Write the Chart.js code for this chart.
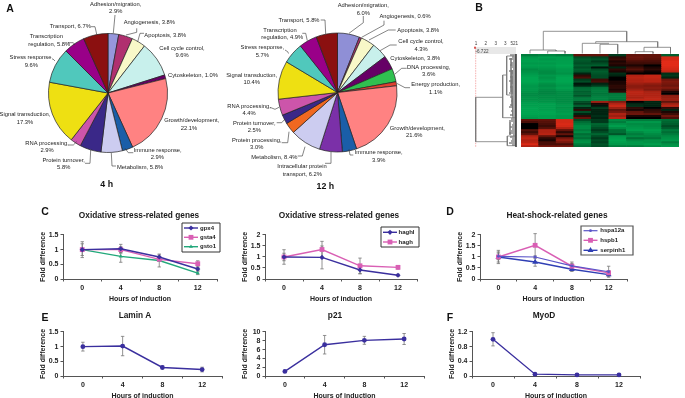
<!DOCTYPE html>
<html><head><meta charset="utf-8">
<style>
html,body{margin:0;padding:0;background:#fff;width:685px;height:398px;overflow:hidden}
#fig{position:relative;width:685px;height:398px;filter:blur(0.35px)}
canvas{position:absolute}
.letter{position:absolute;font:bold 10.5px "Liberation Sans",Arial,sans-serif;color:#111;transform:translate(-50%,-50%)}
</style>
<script src="https://cdn.jsdelivr.net/npm/chart.js@4/dist/chart.umd.js"></script>
</head><body><div id="fig"></div>
<script>
// ---------- DATA ----------
const hours=['0','4','8','12'];
const pie4Cats=['Adhesion/migration','Angiogenesis','Apoptosis','Cell cycle control','Cytoskeleton','Growth/development','Immune response','Metabolism','Protein turnover','RNA processing','Signal transduction','Stress response','Transcription regulation','Transport'];
const pie4Vals=[2.9,3.8,3.8,9.6,1.0,22.1,2.9,5.8,5.8,2.9,17.3,9.6,5.8,6.7];
const pie4Cols=['#9797dc','#b0306f','#f8f8c8','#c8f0ec','#660066','#ff8282','#1a5ea8','#ccccf0','#3a2888','#cc55aa','#eee012','#50c8bc','#990088','#8b1010'];
const pie12Cats=['Adhesion/migration','Angiogenesis','Apoptosis','Cell cycle control','Cytoskeleton','DNA processing','Energy production','Growth/development','Immune response','Intracellular protein transport','Metabolism','Protein processing','Protein turnover','RNA processing','Signal transduction','Stress response','Transcription regulation','Transport'];
const pie12Vals=[6.0,0.6,3.8,4.3,3.8,3.6,1.1,21.6,3.9,6.2,8.4,3.0,2.5,4.4,10.4,5.7,4.9,5.8];
const pie12Cols=['#8f8fd6','#b0306f','#f8f8c8','#c8f0ec','#660066','#30c050','#e04030','#ff8282','#1a5ea8','#7b30a8','#ccccf0','#f06820','#3a2888','#cc55aa','#eee012','#50c8bc','#990088','#8b1010'];

const gpx4=[1.0,1.03,0.75,0.34], gpx4Err=[.05,.15,.07,.05];
const gsta4=[1.0,1.0,0.67,0.52], gsta4Err=[.27,.1,.05,.1];
const gsto1=[1.0,0.77,0.63,0.2], gsto1Err=[.2,.2,.22,.05];
const haghl=[1.0,0.98,0.41,0.17], haghlErr=[.33,.52,.18,.05];
const hagh=[1.0,1.34,0.6,0.53], haghErr=[.17,.37,.35,.08];
const hspa12a=[1.03,1.0,0.6,0.33], hspa12aErr=[.15,.05,.1,.25];
const hspb1=[1.0,1.53,0.58,0.28], hspb1Err=[.3,.53,.19,.1];
const serpinh1=[1.0,0.77,0.44,0.2], serpinh1Err=[.23,.19,.1,.08];
const laminA=[1.0,1.02,0.29,0.22], laminAErr=[.15,.33,.05,.08];
const p21=[1.05,7.1,8.1,8.4], p21Err=[.1,2.1,.9,1.25];
const myoD=[1.0,0.05,0.03,0.03], myoDErr=[.18,.02,.01,.01];
const ticks15=[0,0.5,1,1.5], ticks2=[0,0.5,1,1.5,2], ticks10=[0,2,4,6,8,10], ticks12=[0,0.4,0.8,1.2];

const heatCols=['C2','C3','C1','4h3','4hr2','4h1','12h3','12h2','12h1'];
const heatRows=[
[-.6,-.65,-.6,.3,.3,-.2,.3,.3,-.4],
[-.8,-.85,-.85,-.3,-.25,.1,.35,.3,.9],
[-.85,-.8,-.85,-.4,-.35,.15,.3,.25,.9],
[-.85,-.85,-.85,-.35,-.2,.05,.2,.2,1],
[-.8,-.8,-.85,-.3,-.3,.1,.15,.15,1],
[-.85,-.85,-.9,-.4,-.4,.05,.05,0,1],
[-.8,-.8,-.85,-.3,-.05,-.1,.15,.05,.95],
[-.7,-.75,-.8,-.4,-.3,.1,.25,.1,.9],
[-.75,-.7,-.8,-.35,-.4,.05,.1,.02,.8],
[-.8,-.7,-.75,-.1,-.35,-.15,0,0,-.15],
[-.85,-.8,-.85,.1,-.3,-.1,.7,.8,-.2],
[-.9,-.75,-.9,.2,-.3,0,.75,.8,-.1],
[-.9,-.8,-.9,-.2,.15,0,.7,.75,.35],
[-.9,-.85,-.9,-.3,.2,.05,.7,.75,.45],
[-.85,-.75,-.85,-.05,-.1,.05,.6,.55,.4],
[-.8,-.7,-.8,-.1,-.2,.1,.5,.45,.35],
[-.8,-.75,-.85,-.45,-.55,.1,.5,.5,.45],
[-.8,-.7,-.8,-.5,-.6,.05,.6,.45,.3],
[-.75,-.65,-.7,-.4,-.6,.1,.75,.65,.05],
[-.7,-.65,-.7,-.45,-.55,-.55,.75,.7,0],
[-.7,-.7,-.7,-.35,-.6,-.6,.7,.7,.5],
[-.75,-.7,-.7,-.55,-.65,-.6,.65,.75,.55],
[-.75,-.75,-.7,-.6,-.65,-.55,.8,.8,.6],
[-.8,-.75,-.7,-.3,.6,.45,0,-.1,.3],
[-.85,-.85,-.75,-.2,.05,.7,-.1,-.1,.6],
[-.85,-.85,-.8,-.4,-.05,.85,-.15,-.1,.75],
[-.9,-.85,-.75,-.1,-.2,.6,.1,0,.1],
[-.9,-.85,-.8,.1,-.1,.3,.05,.1,-.1],
[-.9,-.9,-.8,-.3,-.1,.4,.3,.15,.05],
[-.9,-.9,-.85,-.1,-.1,.7,.35,.3,.15],
[-.85,-.85,-.8,.1,-.15,.6,.05,.05,.35],
[-.8,-.85,-.8,.3,-.1,.75,0,0,.2],
[.3,.3,.9,-.3,-.2,-.7,-.6,-.6,-.5],
[.2,.25,.9,-.5,-.2,-.6,-.8,-.8,-.45],
[0,.2,.95,-.6,-.45,-.75,-.7,-.7,-.4],
[0,.15,.9,-.7,-.4,-.85,-.75,-.7,-.3],
[0,.25,.7,-.7,-.3,-.7,-.8,-.75,-.4],
[.25,.7,.3,-.6,-.2,-.5,-.85,-.85,-.6],
[.15,.7,.1,-.7,-.3,-.5,-.7,-.8,-.5],
[.3,.75,.3,-.5,-.45,-.35,-.6,-.7,-.6],
[.7,.3,.05,-.6,-.3,-.8,-.7,-.65,-.7],
[.8,.1,.4,-.5,-.2,-.85,-.5,-.55,-.75],
[.7,.05,.55,-.7,-.3,-.9,-.7,-.75,-.8],
[.75,.2,.4,-.75,-.25,-.85,-.8,-.75,-.6],
[.95,.2,.2,-.6,-.35,-.8,-.8,-.85,-.75],
[.7,.4,.4,-.5,-.3,-.6,-.6,-.7,-.8]];

// dendrogram links, read in picture units
const topTree=[
[[543.3,50],[543.3,31.3],[626.7,31.3],[626.7,41.7]],
[[530,53.5],[530,50],[556,50],[556,51]],
[[547.7,53.5],[547.7,51],[565,51],[565,53.5]],
[[595.7,43.3],[595.7,41.7],[657.7,41.7],[657.7,47.3]],
[[582.3,53.5],[582.3,43.3],[609,43.3]],
[[600,53.5],[600,44.3],[617.7,44.3],[617.7,53.5]],
[[644,51.7],[644,47.3],[670.5,47.3],[670.5,53.5]],
[[635.2,53.5],[635.2,51.7],[653,51.7],[653,53.5]]];
const sideTree=[
[[502.7,97.3],[475.7,97.3],[475.7,141.7],[507.3,141.7]],
[[506.7,75],[502.7,75],[502.7,117.7],[515,117.7]],
[[514,56],[506.7,56],[506.7,95],[511.7,95]],
[[515,136],[507.3,136],[507.3,145.7],[515,145.7]],
[[511,58],[511,92]],[[512.5,98],[512.5,116]],[[510,122],[510,135]],[[512,70],[512,106]]];
const leafStart=[510,512,509,513,511,510,512,513,509,511,513,510,512,509,511,513,510,512,511,509,513,510,512,511,513,510,509,512,511,513,510,512,511,509,513,512,510,512,511,509,513,510,512,511,509,512];

// ---------- LAYOUT ----------
const pie4Text=[['Adhesion/migration,',115.7,4],['2.9%',115.7,11],['Angiogenesis, 3.8%',149.3,22.7],['Apoptosis, 3.8%',165.3,35],['Cell cycle control,',182,48.3],['9.6%',182,55.7],['Cytoskeleton, 1.0%',193,75],['Growth/development,',191.7,120.7],['22.1%',189,128],['Immune response,',157.7,150.7],['2.9%',157.3,157.7],['Metabolism, 5.8%',140,167.3],['Protein turnover,',63.7,160.3],['5.8%',63.7,167.7],['RNA processing,',47,143.3],['2.9%',47,150.7],['Signal transduction,',25,114.7],['17.3%',25,122],['Stress response,',31.3,57.7],['9.6%',31.3,65],['Transcription',46.3,36.7],['regulation, 5.8%',49.3,44],['Transport, 6.7%',70.3,26.7]];
const pie4Lead=[[[115,15],[113.3,33.3]],[[136.7,28.3],[136.7,32.3],[126,35]],[[144,33.3],[140,33.3],[137.7,41.7]],[[133.3,152.7],[128.3,152.7],[125,148.3]],[[116,166],[112,166],[111.3,152.7]],[[85,163.3],[90,163.3],[90.7,150]],[[68.3,145],[73.3,145],[76.7,141.7]],[[53,59],[55,61]],[[67.7,42.7],[73.3,42.7],[75,45]],[[91,26.7],[95,26.7],[96.7,34.3]]];
const pie12Text=[['Adhesion/migration,',363.3,5.7],['6.0%',363.3,13],['Angiogenesis, 0.6%',405,16.3],['Apoptosis, 3.8%',418.3,30.3],['Cell cycle control,',421,41.7],['4.3%',421,49],['Cytoskeleton, 3.8%',415.3,58.7],['DNA processing,',428.7,67],['3.6%',428.7,74],['Energy production,',435.7,84.7],['1.1%',435.7,92],['Growth/development,',417.3,128],['21.6%',414.3,135],['Immune response,',378.7,152.7],['3.9%',378.7,160],['Intracellular protein',302,166.7],['transport, 6.2%',302.3,174],['Metabolism, 8.4%',274.3,157.3],['Protein processing,',256.7,140],['3.0%',256.7,147],['Protein turnover,',254.3,123.3],['2.5%',254.3,130.7],['RNA processing,',249,106.7],['4.4%',249,113.3],['Signal transduction,',251.7,75.3],['10.4%',251.7,82.7],['Stress response,',262.3,47.3],['5.7%',262.3,55],['Transcription',280,30.3],['regulation, 4.9%',282.3,37.7],['Transport, 5.8%',299,20.3]];
const pie12Lead=[[[363.3,16],[363.3,22.7],[349,33.3]],[[384,20.7],[384,25],[361.7,37.3]],[[395.7,30],[388.3,30],[369,40]],[[396.7,45],[390,45],[380,50.7]],[[406.7,68.3],[401.7,68.3],[395,74]],[[410,87.7],[405,87.7],[396.7,83.3]],[[353.3,155],[350,155],[349,149.3]],[[325,163.3],[331,163.3],[331,152]],[[297.7,156],[302.3,156],[305,146.7]],[[281.7,142.7],[287.7,142.7],[289,131.7]],[[276.7,122.7],[281.7,122.7],[285,119]],[[270,107.3],[275,109.3],[279,107.3]],[[285,50],[287.7,51.7],[288.5,53.5]],[[302.3,33.3],[305.7,33.3],[307.3,40.7]],[[320.7,20],[325,20],[325.7,34]]];
const letters=[['A',10,7.5],['B',479,7],['C',45,211],['D',450,211],['E',45,317],['F',450,317]];

const FF='"Liberation Sans",Arial,sans-serif';
const fig=document.getElementById('fig');
function mk(l,t,w,h){const c=document.createElement('canvas');c.width=w;c.height=h;c.style.left=l+'px';c.style.top=t+'px';c.style.width=w+'px';c.style.height=h+'px';fig.appendChild(c);return c;}
letters.forEach(([s,x,y])=>{const d=document.createElement('div');d.className='letter';d.textContent=s;d.style.left=x+'px';d.style.top=y+'px';fig.appendChild(d);});
Chart.defaults.animation=false;Chart.defaults.devicePixelRatio=1;Chart.defaults.font.family=FF;

// ---------- PIES ----------
function pie(left,w,h,padR,padB,cats,vals,cols,texts,leads,caption){
 const c=mk(left,0,w,h);
 new Chart(c,{type:'pie',data:{labels:cats,datasets:[{data:vals,backgroundColor:cols,borderColor:'#222',borderWidth:.7}]},
 options:{responsive:false,radius:59.5,layout:{padding:{right:padR,bottom:padB}},events:[],plugins:{legend:{display:false},tooltip:{enabled:false},title:{display:false}}},
 plugins:[{id:'lbl',afterDraw(ch){const x=ch.ctx;x.save();x.strokeStyle='#333';x.lineWidth=.6;
  leads.forEach(p=>{x.beginPath();p.forEach((q,i)=>i?x.lineTo(q[0]-left,q[1]):x.moveTo(q[0]-left,q[1]));x.stroke();});
  x.fillStyle='#222';x.textAlign='center';x.textBaseline='middle';x.font='5.8px '+FF;
  texts.forEach(t=>x.fillText(t[0],t[1]-left,t[2]));
  x.font='bold 8.8px '+FF;x.fillStyle='#111';x.fillText(caption[0],caption[1]-left,caption[2]);x.restore();}}]});
}
pie(0,232,200,16,14,pie4Cats,pie4Vals,pie4Cols,pie4Text,pie4Lead,['4 h',106.7,184.3]);
pie(225,240,200,15,15,pie12Cats,pie12Vals,pie12Cols,pie12Text,pie12Lead,['12 h',325.3,187]);

// ---------- LINE PANELS ----------
const YW=35,XH=24,TOPH=28;
function panel(s){
 const left=s.axL-YW,top=s.top-TOPH,w=Math.round(2*(s.tc-left)),h=s.bot-s.top+TOPH+XH;
 const c=mk(left,top,w,h);
 const sets=s.series.map(d=>({label:d.name,data:d.v,err:d.e,borderColor:d.col,backgroundColor:d.fill||d.col,borderWidth:d.lw||1.4,pointStyle:d.ps||'circle',pointRadius:d.r||2.4,pointBorderWidth:0,tension:0,clip:false}));
 const font={family:FF,size:7,weight:'bold'};
 new Chart(c,{type:'line',data:{labels:hours,datasets:sets},options:{responsive:false,events:[],
  layout:{padding:{right:left+w-s.axR}},
  plugins:{legend:{display:false},tooltip:{enabled:false},title:{display:true,text:s.title,color:'#1a1a1a',font:{family:FF,size:8.3,weight:'bold'},padding:{top:TOPH-(s.top-s.tcy)-5,bottom:s.top-s.tcy-5}}},
  scales:{x:{type:'category',offset:true,grid:{offset:true,drawOnChartArea:false,tickLength:2.5,color:'#555'},border:{color:'#555'},
    ticks:{font,color:'#222',padding:2,maxRotation:0},title:{display:true,text:'Hours of induction',font,color:'#222',padding:{top:1.8,bottom:0}},afterFit(a){a.height=XH;}},
   y:{min:s.yt[0],max:s.yt[s.yt.length-1],grid:{drawOnChartArea:false,tickLength:2.5,color:'#555'},border:{color:'#555'},
    afterBuildTicks(a){a.ticks=s.yt.map(v=>({value:v}));},
    ticks:{font,color:'#222',padding:2,autoSkip:false,callback:v=>String(v)},title:{display:true,text:'Fold difference',font,color:'#222',padding:{top:10.8,bottom:0}},afterFit(a){a.width=YW;}}}},
 plugins:[{id:'err',afterLayout(ch){ch.titleBlock.left=0;ch.titleBlock.right=w;},
  beforeDatasetsDraw(ch){const x=ch.ctx,xs=ch.scales.x,ys=ch.scales.y;x.save();x.strokeStyle='#777';x.lineWidth=.8;
   ch.data.datasets.forEach(d=>d.err.forEach((e,i)=>{const px=xs.getPixelForValue(i),a=ys.getPixelForValue(d.data[i]+e),b=ys.getPixelForValue(d.data[i]-e);
    x.beginPath();x.moveTo(px,a);x.lineTo(px,b);x.moveTo(px-1.7,a);x.lineTo(px+1.7,a);x.moveTo(px-1.7,b);x.lineTo(px+1.7,b);x.stroke();}));x.restore();},
  afterDraw(ch){if(!s.leg)return;const x=ch.ctx,L=s.leg;x.save();x.strokeStyle=L.bc||'#444';x.lineWidth=L.bw||1;x.fillStyle='#fff';
   x.beginPath();x.rect(L.x0-left,L.y0-top,L.x1-L.x0,L.y1-L.y0);x.fill();x.stroke();
   ch.data.datasets.forEach((d,i)=>{const y=L.ys[i]-top;x.strokeStyle=d.borderColor;x.lineWidth=d.borderWidth;x.beginPath();x.moveTo(L.lx0-left,y);x.lineTo(L.lx1-left,y);x.stroke();
    x.fillStyle=d.backgroundColor;x.strokeStyle=d.backgroundColor;Chart.helpers.drawPoint(x,{pointStyle:d.pointStyle,radius:d.pointRadius,rotation:0,borderWidth:0},(L.lx0+L.lx1)/2-left,y);
    x.fillStyle='#222';x.font='bold 6px '+FF;x.textAlign='left';x.textBaseline='middle';x.fillText(d.label,L.tx-left,y);});x.restore();}}]});
}
const BLUE='#3a2f9e',PINK='#d95fb4',GRN='#22a87a';
panel({axL:63,axR:217,top:235,bot:279,tc:139,tcy:216,title:'Oxidative stress-related genes',yt:ticks15,
 series:[{name:'gpx4',v:gpx4,e:gpx4Err,col:BLUE,ps:'rectRot',r:2.6},{name:'gsta4',v:gsta4,e:gsta4Err,col:PINK,ps:'rect',r:3.4},{name:'gsto1',v:gsto1,e:gsto1Err,col:GRN,ps:'triangle',r:2.3}],
 leg:{x0:182,y0:223,x1:220,y1:252,ys:[228,237.3,246.7],lx0:184,lx1:198,tx:200,bc:'#333'}});
panel({axL:265,axR:417,top:235,bot:279,tc:339,tcy:216,title:'Oxidative stress-related genes',yt:ticks2,
 series:[{name:'haghl',v:haghl,e:haghlErr,col:BLUE,ps:'rectRot',r:2.6},{name:'hagh',v:hagh,e:haghErr,col:PINK,ps:'rect',r:3.4}],
 leg:{x0:381,y0:227,x1:419,y1:247,ys:[232.3,242],lx0:383,lx1:397,tx:398.5,bc:'#333'}});
panel({axL:480,axR:627,top:235,bot:279,tc:557,tcy:216,title:'Heat-shock-related genes',yt:ticks2,
 series:[{name:'hspa12a',v:hspa12a,e:hspa12aErr,col:'#5a55c8',ps:'circle',r:1.4,lw:1.2},{name:'hspb1',v:hspb1,e:hspb1Err,col:PINK,ps:'rect',r:3.4},{name:'serpinh1',v:serpinh1,e:serpinh1Err,col:'#2f3fb4',ps:'triangle',r:3.4}],
 leg:{x0:581,y0:226,x1:633,y1:255,ys:[230.7,240.3,250.3],lx0:583.5,lx1:597.5,tx:600.3,bc:'#555',bw:1.2}});
panel({axL:63,axR:222,top:332,bot:376,tc:135,tcy:316,title:'Lamin A',yt:ticks15,
 series:[{name:'Lamin A',v:laminA,e:laminAErr,col:BLUE}]});
panel({axL:265,axR:424,top:332,bot:376,tc:335,tcy:316,title:'p21',yt:ticks10,
 series:[{name:'p21',v:p21,e:p21Err,col:BLUE}]});
panel({axL:472,axR:640,top:332,bot:376,tc:544,tcy:316,title:'MyoD',yt:ticks12,
 series:[{name:'MyoD',v:myoD,e:myoDErr,col:BLUE}]});

// ---------- HEATMAP ----------
function heatColor(v){const a=Math.pow(Math.abs(v),.7);return v>=0?`rgb(${Math.round(226*a)},${Math.round(44*a)},${Math.round(24*a)})`:`rgb(0,${Math.round(178*a)},${Math.round(86*a)})`;}
new Chart(mk(521,54,159,105),{type:'bar',data:{labels:heatCols,datasets:heatRows.map(r=>({data:r.map(()=>1),backgroundColor:r.map(heatColor),barPercentage:1,categoryPercentage:1,borderWidth:0}))},
 options:{responsive:false,events:[],plugins:{legend:{display:false},tooltip:{enabled:false}},
 scales:{x:{stacked:true,grid:{display:false},border:{display:false},ticks:{font:{size:6,family:FF},color:'#333',padding:3,maxRotation:0,autoSkip:false},afterFit(a){a.height=12;}},
  y:{stacked:true,display:false,min:0,max:heatRows.length,reverse:true}}}});

// ---------- DENDROGRAMS ----------
const DL=470,DT=25;
const treeSets=[];
topTree.forEach(p=>treeSets.push({data:p.map(q=>({x:q[0],y:q[1]})),borderColor:'#777',borderWidth:.8}));
sideTree.forEach(p=>treeSets.push({data:p.map(q=>({x:q[0],y:q[1]})),borderColor:'#777',borderWidth:.8}));
leafStart.forEach((s,i)=>treeSets.push({data:[{x:s,y:55+2*i},{x:516,y:55+2*i}],borderColor:'#333',borderWidth:.9}));
treeSets.push({data:[{x:475.7,y:47.7},{x:475.7,y:147}],borderColor:'#f29a9a',borderWidth:.8,borderDash:[1.5,1]});
treeSets.push({data:[{x:516,y:54},{x:516,y:147}],borderColor:'#222',borderWidth:1.4});
new Chart(mk(DL,DT,215,130),{type:'scatter',data:{datasets:treeSets.map(d=>Object.assign(d,{showLine:true,pointRadius:0,tension:0}))},
 options:{responsive:false,events:[],plugins:{legend:{display:false},tooltip:{enabled:false}},scales:{x:{display:false,min:DL,max:DL+215},y:{display:false,min:DT,max:DT+130,reverse:true}}},
 plugins:[{id:'ruler',beforeDatasetsDraw(ch){const x=ch.ctx;x.save();x.fillStyle='#e8e8e8';x.fillRect(475-DL,47-DT,41,7);x.restore();},
  afterDraw(ch){const x=ch.ctx;x.save();x.fillStyle='#d9534f';x.fillRect(474-DL,46.7-DT,2,2);x.fillStyle='#444';x.font='4.6px '+FF;x.textAlign='center';x.textBaseline='middle';
   [['1',476],['2',485.7],['3',495.7],['3',505.3],['521',514.3]].forEach(t=>x.fillText(t[0],t[1]-DL,44-DT));x.fillText('-6.722',482-DL,52-DT);x.restore();}}]});
</script></body></html>
